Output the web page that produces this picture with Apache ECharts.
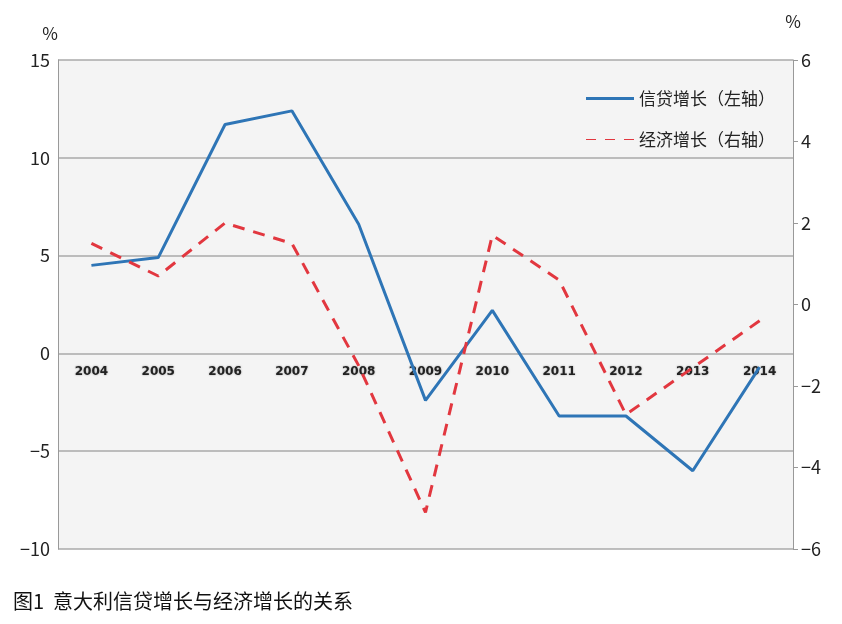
<!DOCTYPE html>
<html><head><meta charset="utf-8">
<script src="https://cdn.jsdelivr.net/npm/echarts@6/dist/echarts.min.js"></script>
<style>body{margin:0;background:#fff}#c{width:842px;height:624px}</style>
</head><body><div id="c"></div>
<script>
var years = ['2004','2005','2006','2007','2008','2009','2010','2011','2012','2013','2014'];
var credit = [4.5, 4.9, 11.7, 12.4, 6.6, -2.4, 2.2, -3.2, -3.2, -6.0, -0.7];   // 信贷增长 左轴
var economy = [1.5, 0.7, 2.0, 1.5, -1.5, -5.1, 1.7, 0.6, -2.7, -1.55, -0.4]; // 经济增长 右轴

var font = 'Noto Sans CJK SC';
var chart = echarts.init(document.getElementById('c'));
chart.setOption({
  textStyle: {fontFamily: font},
  title: {text: '图1  意大利信贷增长与经济增长的关系', left: 8, top: 586,
    textStyle: {fontSize: 20, fontWeight: 'normal', color: '#111', fontFamily: font}},
  legend: {orient: 'vertical', right: 62, top: 85, itemGap: 24, itemWidth: 48, itemHeight: 3,
    textStyle: {fontSize: 17, color: '#222'},
    data: [{name: '信贷增长（左轴）', icon: 'rect'},
           {name: '经济增长（右轴）', icon: 'path://M0,0H10V1H0Z M19,0H29V1H19Z M38,0H48V1H38Z'}]},
  grid: {left: 58, right: 49, top: 60, bottom: 75, show: true, backgroundColor: '#f4f4f4', borderWidth: 0},
  xAxis: {type: 'category', data: years, boundaryGap: true,
    axisLine: {show: false}, axisTick: {show: false},
    axisLabel: {fontSize: 12, fontWeight: 'bold', color: '#222', fontFamily: 'DejaVu Sans', margin: -183,
      textShadowColor: '#999', textShadowBlur: 2}},
  yAxis: [
    {type: 'value', min: -10, max: 15, interval: 5, name: '%', nameGap: 18,
      nameTextStyle: {fontSize: 17, color: '#222', align: 'right'},
      axisLine: {show: true, lineStyle: {color: '#999'}}, axisTick: {show: false},
      axisLabel: {fontSize: 18, color: '#222', formatter: function(v){return v<0?'\u2212'+(-v):v;}},
      splitLine: {lineStyle: {color: '#aaa', width: 1.5}}},
    {type: 'value', min: -6, max: 6, interval: 2, name: '%', nameGap: 30,
      nameTextStyle: {fontSize: 17, color: '#222'},
      axisLine: {show: true, lineStyle: {color: '#999'}}, axisTick: {show: true, lineStyle: {color: '#999'}},
      axisLabel: {fontSize: 18, color: '#222', formatter: function(v){return v<0?'\u2212'+(-v):v;}},
      splitLine: {show: false}}
  ],
  series: [
    {name: '信贷增长（左轴）', type: 'line', data: credit, yAxisIndex: 0, symbol: 'none',
      itemStyle: {color: '#2e75b6'}, lineStyle: {color: '#2e75b6', width: 3}},
    {name: '经济增长（右轴）', type: 'line', data: economy, yAxisIndex: 1, symbol: 'none',
      itemStyle: {color: '#e2373f'}, lineStyle: {color: '#e2373f', width: 3, type: [12, 9]}}
  ]
});
</script></body></html>
